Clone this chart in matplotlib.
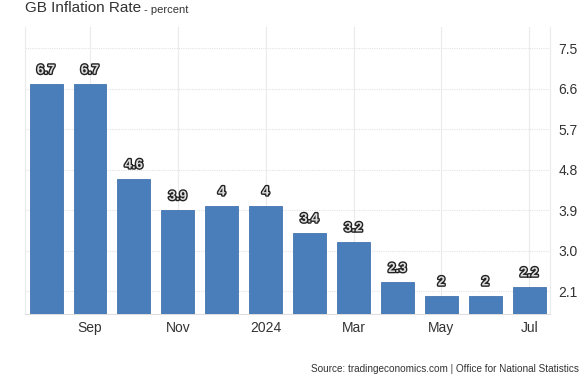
import matplotlib
matplotlib.use("Agg")
import matplotlib.pyplot as plt
import matplotlib.patheffects as pe
import numpy as np

plt.rcParams["font.family"] = ["Liberation Sans", "DejaVu Sans"]

months = ["Aug", "Sep", "Oct", "Nov", "Dec", "Jan", "Feb", "Mar", "Apr", "May", "Jun", "Jul"]
values = [6.7, 6.7, 4.6, 3.9, 4.0, 4.0, 3.4, 3.2, 2.3, 2.0, 2.0, 2.2]
value_labels = ["6.7", "6.7", "4.6", "3.9", "4", "4", "3.4", "3.2", "2.3", "2", "2", "2.2"]
tick_positions = [1, 3, 5, 7, 9, 11]
tick_labels = ["Sep", "Nov", "2024", "Mar", "May", "Jul"]
y_ticks = [2.1, 3.0, 3.9, 4.8, 5.7, 6.6, 7.5]

fig = plt.figure(figsize=(5.85, 3.75), dpi=100)
ax = fig.add_axes([0.0427, 0.1627, 0.8973, 0.7653])

x = np.arange(len(values))
ax.bar(x, values, width=0.75, color="#4a7ebb", edgecolor="#4274b0", linewidth=0.6,
       zorder=3)

for xi, v, lab in zip(x, values, value_labels):
    ax.text(xi, v + 0.3, lab, ha="center", va="center", fontsize=9.5,
            fontweight="bold", color="#dedede", zorder=4,
            path_effects=[pe.withStroke(linewidth=2.0, foreground="#222222")])

ax.set_xlim(-0.48, 11.47)
ax.set_ylim(1.6, 7.97)
ax.set_xticks(tick_positions, tick_labels)
ax.set_yticks(y_ticks, [f"{t:.1f}" for t in y_ticks])
ax.yaxis.tick_right()
ax.tick_params(axis="both", length=0, labelsize=10, colors="#333333")
ax.tick_params(axis="x", pad=5)
ax.tick_params(axis="y", pad=6)

ax.grid(True, axis="x", color="#ebebeb", linewidth=0.8, zorder=0)
ax.grid(True, axis="y", color="#e3e3e3", linestyle=(0, (1, 1)), linewidth=0.8, zorder=0)
for side in ["left", "right"]:
    ax.spines[side].set_color("#ebebeb")
    ax.spines[side].set_linewidth(0.8)
ax.spines["top"].set_visible(False)
ax.spines["bottom"].set_color("#dddddd")

fig.text(0.0427, 0.997, "GB Inflation Rate", fontsize=11, color="#333333",
         ha="left", va="top")
fig.text(0.246, 0.987, "- percent", fontsize=8, color="#333333", ha="left", va="top")
fig.text(0.99, 0.004, "Source: tradingeconomics.com | Office for National Statistics",
         fontsize=7.2, color="#333333", ha="right", va="bottom")

fig.savefig("out.png", dpi=100)
